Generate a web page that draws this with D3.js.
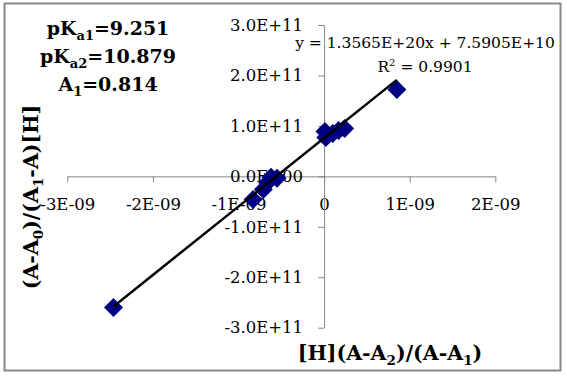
<!DOCTYPE html>
<html>
<head>
<meta charset="utf-8">
<script src="https://cdn.jsdelivr.net/npm/d3@7"></script>
<style>
  html, body { margin: 0; padding: 0; background: #fff; }
  svg { display: block; }
  .tick text { font-family: "DejaVu Serif", serif; fill: #000; }
</style>
</head>
<body>
<div id="chart"></div>
<script>
// data (x in units of 1e-9, y in units of 1e11)
const xVals = [-2.46, -0.83, -0.71, -0.66, -0.62, -0.55, 0.01, 0.02, 0.10, 0.17, 0.24, 0.85]
const yVals = [-2.60, -0.46, -0.26, -0.12, -0.02, -0.04, 0.89, 0.77, 0.85, 0.91, 0.95, 1.72]
const trendSlope = 1.3565e20
const trendIntercept = 7.5905e10
const xTicks = [-3e-9, -2e-9, -1e-9, 0, 1e-9, 2e-9]
const xTickLabels = ["-3E-09", "-2E-09", "-1E-09", "0", "1E-09", "2E-09"]
const yTicks = [3e11, 2e11, 1e11, 0, -1e11, -2e11, -3e11]
const yTickLabels = ["3.0E+11", "2.0E+11", "1.0E+11", "0.0E+00", "-1.0E+11", "-2.0E+11", "-3.0E+11"]

const width = 567, height = 378
const points = xVals.map((v, i) => ({ x: v * 1e-9, y: yVals[i] * 1e11 }))

const svg = d3.select("#chart").append("svg")
  .attr("width", width)
  .attr("height", height)

// chart border
svg.append("rect")
  .attr("x", 4.5).attr("y", 3.5)
  .attr("width", 556).attr("height", 367)
  .attr("fill", "#fff")
  .attr("stroke", "#888")
  .attr("stroke-width", 2)

const x = d3.scaleLinear().domain([-3e-9, 2e-9]).range([67.3, 495.3])
const y = d3.scaleLinear().domain([-3e11, 3e11]).range([327.7, 25])

// x axis through y = 0
const xAxis = svg.append("g")
  .attr("transform", `translate(0,${y(0)})`)
  .call(d3.axisBottom(x).tickValues(xTicks)
    .tickFormat((d, i) => xTickLabels[i])
    .tickSizeInner(6).tickSizeOuter(0).tickPadding(16))
xAxis.selectAll("text").attr("font-size", 16.5)
xAxis.selectAll("path, line").attr("stroke", "#868686")

// y axis through x = 0
const yAxis = svg.append("g")
  .attr("transform", `translate(${x(0)},0)`)
  .call(d3.axisLeft(y).tickValues(yTicks)
    .tickFormat((d, i) => yTickLabels[i])
    .tickSizeInner(6).tickSizeOuter(0).tickPadding(15))
yAxis.selectAll("text").attr("font-size", 16.5)
yAxis.selectAll("path, line").attr("stroke", "#868686")

// markers
const diamond = r => `M0,${-r}L${r},0L0,${r}L${-r},0Z`
svg.append("g").selectAll("path")
  .data(points)
  .join("path")
  .attr("transform", d => `translate(${x(d.x)},${y(d.y)})`)
  .attr("d", diamond(9.5))
  .attr("fill", "#000080")

// linear trendline across the data range
const xExt = d3.extent(points, d => d.x)
svg.append("line")
  .attr("x1", x(xExt[0])).attr("y1", y(trendSlope * xExt[0] + trendIntercept))
  .attr("x2", x(xExt[1])).attr("y2", y(trendSlope * xExt[1] + trendIntercept))
  .attr("stroke", "#000")
  .attr("stroke-width", 2.5)

// equation label
const eq = svg.append("g")
  .attr("font-family", "DejaVu Serif, serif")
  .attr("font-size", 15.5)
  .attr("text-anchor", "middle")
eq.append("text").attr("x", 425).attr("y", 48)
  .text("y = 1.3565E+20x + 7.5905E+10")
const r2 = eq.append("text").attr("x", 425).attr("y", 71.5)
r2.append("tspan").text("R")
r2.append("tspan").attr("dy", -6).attr("font-size", 10).text("2")
r2.append("tspan").attr("dy", 6).text(" = 0.9901")

// constants box
const consts = [
  ["pK", "a1", "=9.251"],
  ["pK", "a2", "=10.879"],
  ["A", "1", "=0.814"]
]
const cg = svg.append("g")
  .attr("font-family", "DejaVu Serif, serif")
  .attr("font-weight", "bold")
  .attr("font-size", 19)
  .attr("text-anchor", "middle")
consts.forEach((c, i) => {
  const t = cg.append("text").attr("x", 108).attr("y", 35 + i * 27.8)
  t.append("tspan").text(c[0])
  t.append("tspan").attr("dy", 5).attr("font-size", 13).text(c[1])
  t.append("tspan").attr("dy", -5).text(c[2])
})

// axis titles
const bold = sel => sel.attr("font-family", "DejaVu Serif, serif")
  .attr("font-weight", "bold").attr("font-size", 20.5)
  .attr("text-anchor", "middle")

const xt = svg.append("text").call(bold).attr("x", 390).attr("y", 360)
;[["[H](A-A", 0], ["2", 5], [")/(A-A", -5], ["1", 5], [")", -5]].forEach(([s, dy], i) => {
  const ts = xt.append("tspan").attr("dy", dy).text(s)
  if (i % 2 === 1) ts.attr("font-size", 13.5)
})

const yt = svg.append("text").call(bold)
  .attr("transform", "translate(38,197) rotate(-90)")
;[["(A-A", 0], ["0", 5], [")/(A", -5], ["1", 5], ["-A)[H]", -5]].forEach(([s, dy], i) => {
  const ts = yt.append("tspan").attr("dy", dy).text(s)
  if (i % 2 === 1) ts.attr("font-size", 13.5)
})
</script>
</body>
</html>
